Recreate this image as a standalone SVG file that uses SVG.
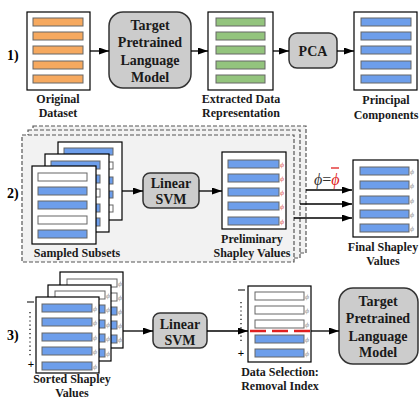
<svg xmlns="http://www.w3.org/2000/svg" width="420" height="399" viewBox="0 0 420 399">
<defs>
<marker id="ah" markerUnits="userSpaceOnUse" markerWidth="10" markerHeight="7" refX="10" refY="3.5" orient="auto" viewBox="0 0 10 7">
<path d="M0,0 L10,3.5 L0,7 z" fill="#000"/>
</marker>
<style>
.t{font-family:"Liberation Serif","Times New Roman",serif;font-weight:bold;fill:#1a1a1a;text-anchor:middle}
.lb{font-size:12px}
.bx{font-size:14px}
.num{font-family:"Liberation Serif",serif;font-weight:bold;font-size:14px;fill:#000}
.doc{fill:#fff;stroke:#000;stroke-width:1.2}
.rb{fill:#cccccc;stroke:#333;stroke-width:1.5}
.o{fill:#f6a95f;stroke:#666;stroke-width:1}
.g{fill:#93c47d;stroke:#666;stroke-width:1}
.b{fill:#6d9eeb;stroke:#666;stroke-width:1}
.w{fill:#fff;stroke:#666;stroke-width:1}
.dash{fill:#f2f2f2;stroke:#555;stroke-width:1.2;stroke-dasharray:4 2}
.ar{stroke:#000;stroke-width:1.3;fill:none;marker-end:url(#ah)}
.ph{font-family:"DejaVu Serif",serif;font-style:italic;font-size:6px}
.pr{fill:#e06666}
.pg{fill:#999}
.mk{font-family:"Liberation Sans",sans-serif;font-size:11px;fill:#000;text-anchor:middle}
</style>
</defs>

<!-- Section labels -->
<text class="num" x="7" y="60">1)</text>
<text class="num" x="7" y="198">2)</text>
<text class="num" x="7" y="340">3)</text>

<!-- Section 2 dashed background -->
<g id="bg2">
<rect class="dash" x="33" y="126" width="273" height="127"/>
<rect class="dash" x="28" y="130" width="272" height="128"/>
<rect class="dash" x="22" y="135" width="272" height="127"/>
</g>

<!-- Section 1 -->
<g id="orig">
<rect class="doc" x="27" y="12" width="63" height="78"/>
<rect class="o" x="33" y="18" width="50" height="8"/>
<rect class="o" x="33" y="32" width="50" height="8"/>
<rect class="o" x="33" y="46" width="50" height="8"/>
<rect class="o" x="33" y="61" width="50" height="8"/>
<rect class="o" x="33" y="75" width="50" height="8"/>
<text class="t lb" x="58" y="103">Original</text>
<text class="t lb" x="58" y="117">Dataset</text>
</g>
<g id="tplm1">
<rect class="rb" x="109" y="12" width="82" height="76" rx="14"/>
<text class="t bx" x="150" y="30">Target</text>
<text class="t bx" x="150" y="47">Pretrained</text>
<text class="t bx" x="150" y="65">Language</text>
<text class="t bx" x="150" y="82">Model</text>
</g>
<g id="extr">
<rect class="doc" x="208" y="12" width="65" height="78"/>
<rect class="g" x="216" y="18" width="49" height="8"/>
<rect class="g" x="216" y="32" width="49" height="8"/>
<rect class="g" x="216" y="46" width="49" height="8"/>
<rect class="g" x="216" y="61" width="49" height="8"/>
<rect class="g" x="216" y="75" width="49" height="8"/>
<text class="t lb" x="241" y="103">Extracted Data</text>
<text class="t lb" x="241" y="117">Representation</text>
</g>
<g id="pca">
<rect class="rb" x="289" y="33" width="48" height="35" rx="8"/>
<text class="t bx" x="313" y="56">PCA</text>
</g>
<g id="princ">
<rect class="doc" x="354" y="12" width="63" height="78"/>
<rect class="b" x="361" y="18" width="50" height="8"/>
<rect class="b" x="361" y="32" width="50" height="8"/>
<rect class="b" x="361" y="46" width="50" height="8"/>
<rect class="b" x="361" y="61" width="50" height="8"/>
<rect class="b" x="361" y="75" width="50" height="8"/>
<text class="t lb" x="386" y="104">Principal</text>
<text class="t lb" x="386" y="119">Components</text>
</g>

<!-- Section 2 -->
<g id="subsets">
<rect class="doc" x="58" y="142" width="64" height="78"/>
<rect class="b" x="64" y="148" width="49" height="7"/>
<rect class="w" x="64" y="162" width="49" height="7"/>
<rect class="b" x="64" y="177" width="49" height="7"/>
<rect class="b" x="64" y="191" width="49" height="7"/>
<rect class="w" x="64" y="205" width="49" height="7"/>
<rect class="doc" x="45" y="154" width="64" height="78"/>
<rect class="b" x="51" y="161" width="49" height="8"/>
<rect class="b" x="51" y="175" width="49" height="8"/>
<rect class="w" x="51" y="189" width="49" height="8"/>
<rect class="b" x="51" y="204" width="49" height="8"/>
<rect class="b" x="51" y="218" width="49" height="8"/>
<rect class="doc" x="32" y="166" width="64" height="78"/>
<rect class="w" x="38" y="173" width="49" height="8"/>
<rect class="b" x="38" y="187" width="49" height="8"/>
<rect class="b" x="38" y="201" width="49" height="8"/>
<rect class="w" x="38" y="216" width="49" height="8"/>
<rect class="b" x="38" y="230" width="49" height="8"/>
<text class="t lb" x="77" y="257">Sampled Subsets</text>
</g>
<g id="svm1">
<rect class="rb" x="143" y="173" width="56" height="35" rx="7"/>
<text class="t bx" x="171" y="188">Linear</text>
<text class="t bx" x="171" y="204">SVM</text>
</g>
<g id="prelim">
<rect class="doc" x="222" y="152" width="64" height="77"/>
<rect class="b" x="228" y="160" width="51" height="8"/>
<rect class="b" x="228" y="174" width="51" height="8"/>
<rect class="b" x="228" y="188" width="51" height="8"/>
<rect class="b" x="228" y="202" width="51" height="8"/>
<rect class="b" x="228" y="217" width="51" height="8"/>
<text class="ph pr" x="280" y="167">ϕ</text>
<text class="ph pr" x="280" y="181">ϕ</text>
<text class="ph pr" x="280" y="195">ϕ</text>
<text class="ph pr" x="280" y="209">ϕ</text>
<text class="ph pr" x="280" y="224">ϕ</text>
<text class="t lb" x="252" y="243">Preliminary</text>
<text class="t lb" x="252" y="257">Shapley Values</text>
</g>
<g id="final">
<rect class="doc" x="353" y="160" width="65" height="77"/>
<rect class="b" x="360" y="167" width="49" height="8"/>
<rect class="b" x="360" y="181" width="49" height="8"/>
<rect class="b" x="360" y="196" width="49" height="8"/>
<rect class="b" x="360" y="210" width="49" height="8"/>
<rect class="b" x="360" y="224" width="49" height="8"/>
<text class="ph pg" x="410" y="174">ϕ</text>
<text class="ph pg" x="410" y="188">ϕ</text>
<text class="ph pg" x="410" y="203">ϕ</text>
<text class="ph pg" x="410" y="217">ϕ</text>
<text class="ph pg" x="410" y="231">ϕ</text>
<text class="t lb" x="383" y="251">Final Shapley</text>
<text class="t lb" x="383" y="265">Values</text>
</g>
<g id="eq">
<text x="314" y="185" font-family="Liberation Serif,serif" font-style="italic" font-size="16" fill="#333">ϕ<tspan font-style="normal">=</tspan><tspan fill="#e02020">ϕ</tspan></text>
<line x1="331" y1="168" x2="339" y2="168" stroke="#e02020" stroke-width="1.3"/>
</g>

<!-- Section 3 -->
<g id="sorted">
<rect class="doc" x="60" y="272" width="63" height="76"/>
<rect class="w" x="67" y="279" width="50" height="8"/>
<rect class="w" x="67" y="293" width="50" height="8"/>
<rect class="b" x="67" y="307" width="50" height="8"/>
<rect class="b" x="67" y="321" width="50" height="8"/>
<rect class="b" x="67" y="335" width="50" height="8"/>
<text class="ph pg" x="118" y="286">ϕ</text>
<text class="ph pg" x="118" y="300">ϕ</text>
<text class="ph pg" x="118" y="314">ϕ</text>
<text class="ph pg" x="118" y="328">ϕ</text>
<text class="ph pg" x="118" y="342">ϕ</text>
<rect class="doc" x="48" y="285" width="63" height="76"/>
<rect class="w" x="55" y="291" width="50" height="8"/>
<rect class="b" x="55" y="305" width="50" height="8"/>
<rect class="b" x="55" y="320" width="50" height="8"/>
<rect class="b" x="55" y="334" width="50" height="8"/>
<rect class="b" x="55" y="349" width="50" height="8"/>
<text class="ph pg" x="106" y="298">ϕ</text>
<text class="ph pg" x="106" y="312">ϕ</text>
<text class="ph pg" x="106" y="327">ϕ</text>
<text class="ph pg" x="106" y="341">ϕ</text>
<text class="ph pg" x="106" y="356">ϕ</text>
<rect class="doc" x="36" y="297" width="63" height="76"/>
<rect class="b" x="42" y="304" width="50" height="8"/>
<rect class="b" x="42" y="318" width="50" height="8"/>
<rect class="b" x="42" y="333" width="50" height="8"/>
<rect class="b" x="42" y="347" width="50" height="8"/>
<rect class="b" x="42" y="362" width="50" height="8"/>
<text class="ph pg" x="93" y="311">ϕ</text>
<text class="ph pg" x="93" y="325">ϕ</text>
<text class="ph pg" x="93" y="340">ϕ</text>
<text class="ph pg" x="93" y="354">ϕ</text>
<text class="ph pg" x="93" y="369">ϕ</text>
<line x1="27" y1="302" x2="34" y2="302" stroke="#000" stroke-width="1"/>
<line x1="30" y1="312" x2="30" y2="357" stroke="#000" stroke-width="1.2" stroke-dasharray="1.2 3"/>
<text class="mk" x="31" y="368">+</text>
<text class="t lb" x="72" y="383">Sorted Shapley</text>
<text class="t lb" x="72" y="397">Values</text>
</g>
<g id="svm2">
<rect class="rb" x="153" y="313" width="54" height="35" rx="7"/>
<text class="t bx" x="180" y="329">Linear</text>
<text class="t bx" x="180" y="345">SVM</text>
</g>
<g id="select">
<rect class="doc" x="248" y="286" width="63" height="76"/>
<rect class="w" x="255" y="292" width="49" height="8"/>
<rect class="w" x="255" y="306" width="49" height="8"/>
<rect class="w" x="255" y="320" width="49" height="8"/>
<rect class="b" x="255" y="335" width="49" height="8"/>
<rect class="b" x="255" y="349" width="49" height="8"/>
<text class="ph pg" x="305" y="299">ϕ</text>
<text class="ph pg" x="305" y="313">ϕ</text>
<text class="ph pg" x="305" y="327">ϕ</text>
<text class="ph pg" x="305" y="342">ϕ</text>
<text class="ph pg" x="305" y="356">ϕ</text>
<line x1="250" y1="331" x2="311" y2="331" stroke="#e02020" stroke-width="2.4" stroke-dasharray="16 6"/>
<line x1="238" y1="290" x2="245" y2="290" stroke="#000" stroke-width="1"/>
<line x1="241" y1="302" x2="241" y2="342" stroke="#000" stroke-width="1.2" stroke-dasharray="1.2 3"/>
<text class="mk" x="241" y="357">+</text>
<text class="t lb" x="280" y="376">Data Selection:</text>
<text class="t lb" x="280" y="390">Removal Index</text>
</g>
<g id="tplm2">
<rect class="rb" x="339" y="288" width="79" height="76" rx="14"/>
<text class="t bx" x="378" y="306">Target</text>
<text class="t bx" x="378" y="323">Pretrained</text>
<text class="t bx" x="378" y="341">Language</text>
<text class="t bx" x="378" y="357">Model</text>
</g>

<!-- Connectors -->
<g id="connectors">
<line class="ar" x1="90" y1="51" x2="109" y2="51"/>
<line class="ar" x1="191" y1="51" x2="208" y2="51"/>
<line class="ar" x1="273" y1="51" x2="289" y2="51"/>
<line class="ar" x1="337" y1="51" x2="354" y2="51"/>
<line class="ar" x1="122" y1="191" x2="143" y2="191"/>
<line class="ar" x1="199" y1="191" x2="222" y2="191"/>
<line class="ar" x1="306" y1="190" x2="352" y2="190"/>
<line class="ar" x1="300" y1="204" x2="352" y2="204"/>
<line class="ar" x1="294" y1="218" x2="352" y2="218"/>
<line class="ar" x1="123" y1="331" x2="153" y2="331"/>
<line class="ar" x1="207" y1="331" x2="248" y2="331"/>
<line class="ar" x1="311" y1="331" x2="339" y2="331"/>
</g>
</svg>
